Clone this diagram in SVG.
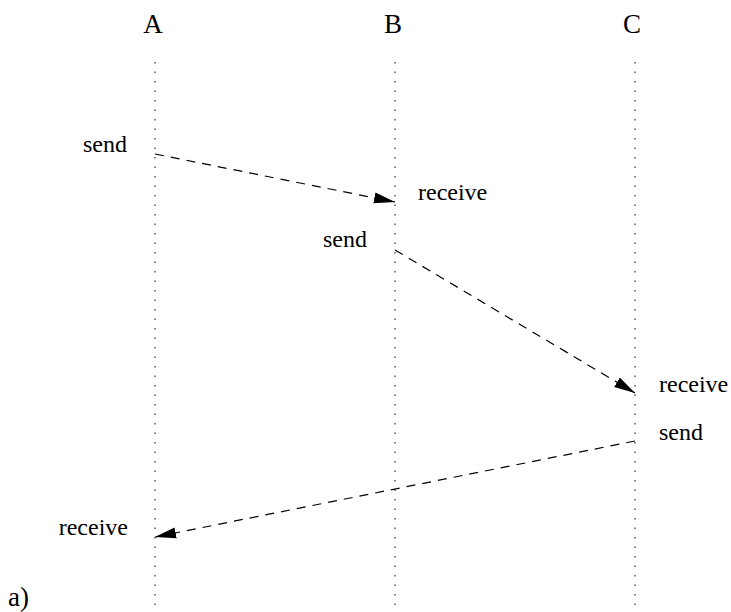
<svg xmlns="http://www.w3.org/2000/svg" width="731" height="612" viewBox="0 0 731 612">
<style>
.life{stroke:#555;stroke-width:1.5;stroke-dasharray:1.5 8;fill:none}
.msg{stroke:#000;stroke-width:1.2;stroke-dasharray:9 7;fill:none}
.hd{font-family:"Liberation Serif",serif;font-size:27px;fill:#000}
.lb{font-family:"Liberation Serif",serif;font-size:24px;fill:#000}
</style>
<defs>
<marker id="ah" markerWidth="21" markerHeight="12" refX="21" refY="6" orient="auto" markerUnits="userSpaceOnUse">
<path d="M0,0.5 L21,6 L0,11.5 z" fill="#000"/>
</marker>
</defs>
<rect width="731" height="612" fill="#fff"/>
<g id="A"><text class="hd" x="153" y="33" text-anchor="middle">A</text><line class="life" x1="155" y1="62" x2="155" y2="612"/></g>
<g id="B"><text class="hd" x="393" y="33" text-anchor="middle">B</text><line class="life" x1="395" y1="62" x2="395" y2="612"/></g>
<g id="C"><text class="hd" x="632" y="33" text-anchor="middle">C</text><line class="life" x1="635" y1="62" x2="635" y2="612"/></g>
<g id="labels">
<text class="lb" x="127" y="152" text-anchor="end">send</text>
<text class="lb" x="418" y="200">receive</text>
<text class="lb" x="367" y="247" text-anchor="end">send</text>
<text class="lb" x="659" y="392">receive</text>
<text class="lb" x="659" y="440">send</text>
<text class="lb" x="128" y="535" text-anchor="end">receive</text>
<text class="hd" x="8" y="606">a)</text>
</g>
<g id="connectors">
<line class="msg" x1="155" y1="154" x2="395" y2="202" marker-end="url(#ah)"/>
<line class="msg" x1="395" y1="250" x2="635" y2="393" marker-end="url(#ah)"/>
<line class="msg" x1="635" y1="441" x2="155" y2="537" marker-end="url(#ah)"/>
</g>
</svg>
